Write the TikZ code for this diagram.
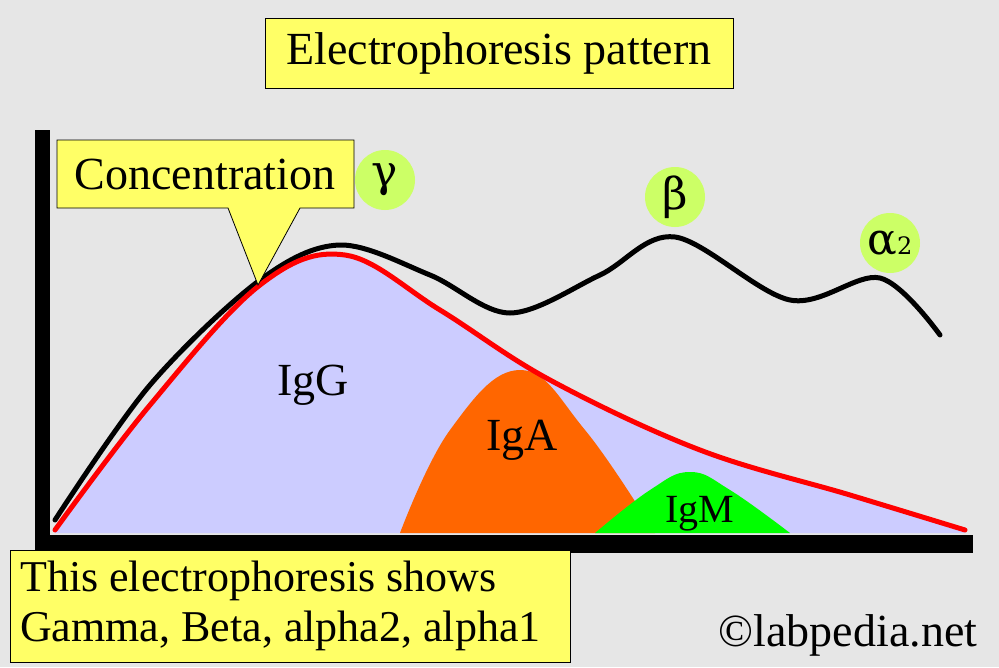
\documentclass[tikz,border=0pt]{standalone}
\usepackage{fontspec}
\setmainfont{Liberation Serif}
\newfontfamily\symf{DejaVu Serif}
\definecolor{bg}{HTML}{E6E6E6}
\definecolor{yel}{HTML}{FFFF66}
\definecolor{lav}{HTML}{CCCCFF}
\definecolor{lgreen}{HTML}{CCFF66}
\definecolor{ora}{HTML}{FF6600}
\begin{document}
\begin{tikzpicture}[x=1pt,y=-1pt,
  ybox/.style={draw=black,fill=yel,line width=0.8pt},
  circ/.style={circle,fill=lgreen,minimum size=60pt,inner sep=0pt,font=\fontsize{44}{44}\selectfont},
  lab/.style={font=\fontsize{46}{48}\selectfont}]
\useasboundingbox (0,0) rectangle (999,667);
\fill[bg] (0,0) rectangle (999,667);
% areas
\fill[lav] plot[smooth,tension=0.6] coordinates {(55,530) (150,405) (260,285) (345,255) (440,310) (550,380) (700,450) (850,495) (965,530)} -- (965,533) -- (55,533) -- cycle;
\fill[ora] plot[smooth,tension=0.7] coordinates {(400,533) (450,430) (520,370) (585,430) (655,533)} -- cycle;
\fill[green] plot[smooth,tension=0.7] coordinates {(595,533) (650,490) (690,472) (730,490) (790,533)} -- cycle;
\node[lab] (igg) at (313,385) {IgG};
\node[lab] (iga) at (522,440) {IgA};
\node[lab,font=\fontsize{40}{42}\selectfont] (igm) at (700,514) {IgM};
% curves
\draw[line width=5pt,line cap=round] plot[smooth,tension=0.55] coordinates {(55,520) (150,385) (260,280) (340,245) (430,275) (510,313) (600,275) (675,237) (790,300) (880,278) (940,335)};
\draw[red,line width=5pt,line cap=round] plot[smooth,tension=0.6] coordinates {(55,530) (150,405) (260,285) (345,255) (440,310) (550,380) (700,450) (850,495) (965,530)};
% axes
\fill[black] (35,130) rectangle (50,553);
\fill[black] (35,535) rectangle (973,553);
% circles
\node[circ] (g) at (385,180) {\symf γ};
\node[circ] (b) at (675,197) {\symf β};
\node[circ] (a) at (890,243) {\symf α\fontsize{24}{24}\selectfont 2};
% title
\node[ybox,lab,minimum width=468pt,minimum height=70pt] (t) at (499,53) {Electrophoresis pattern};
% callout
\draw[ybox] (57,140) -- (354,140) -- (354,208) -- (300,208) -- (258,285) -- (228,208) -- (57,208) -- cycle;
\node[lab] (c) at (205,174) {Concentration};
% bottom
\draw[ybox] (10,550) rectangle (570,662);
\node[lab,font=\fontsize{44}{50}\selectfont,align=left,anchor=west,inner sep=0pt] (bt) at (20,606) {This electrophoresis shows\\Gamma, Beta, alpha2, alpha1};
\node[lab] (cp) at (848,635) {©labpedia.net};
\end{tikzpicture}
\end{document}
